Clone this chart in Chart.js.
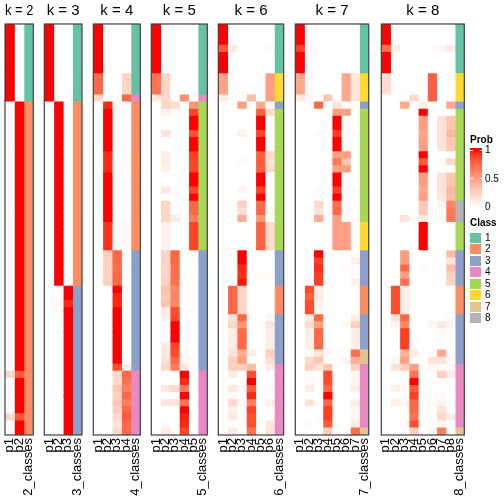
<!DOCTYPE html>
<html>
<head>
<meta charset="utf-8">
<script src="https://cdn.jsdelivr.net/npm/chart.js@4.4.1/dist/chart.umd.min.js"></script>
<style>
  html, body { margin: 0; padding: 0; background: #fff; }
  #wrap { position: relative; width: 504px; height: 504px; overflow: hidden;
          font-family: "Liberation Sans", Arial, Helvetica, sans-serif; color: #000; }
  .panel { position: absolute; top: 0; }
  .lg { position: absolute; font-size: 10px; line-height: 12px; white-space: nowrap; }
  .lg.b { font-weight: bold; }
  .box { position: absolute; }
</style>
</head>
<body>
<div id="wrap"></div>
<script>
const ks = [2, 3, 4, 5, 6, 7, 8];

// class membership of the 58 samples for every k
const classK2 = [1,1,1,1,1,1,1,1,1,1,1,
  2,2,2,2,2,2,2,2,2,2, 2,2,2,2,2,2,2,2,2,2, 2,2,2,2,2,2,2,2,2,2, 2,2,2,2,2,2,2,2,2,2, 2,2,2,2,2,2,2];
const classK3 = [1,1,1,1,1,1,1,1,1,1,1,
  2,2,2,2,2,2,2,2,2,2, 2,2,2,2,2,2,2,2,2,2, 2,2,2,2,2,2,
  3,3,3,3,3,3,3,3,3,3, 3,3,3,3,3,3,3,3,3,3,3];
const classK4 = [1,1,1,1,1,1,1,1,1,1, 4,
  2,2,2,2,2,2,2,2,2,2, 2,2,2,2,2,2,2,2,2,2,2,
  3,3,3,3,3,3,3,3,3,3, 3,3,3,3,3,3,3,
  4,4,4,4,4,4,4,4,4];
const classK5 = [1,1,1,1,1,1,1,1,1,1, 4,
  5,5,5,5,5,5,5,5,5,5, 5,5,5,5,5,5,5,5,5,5,5,
  3,3,3,3,3,3,3,3,3,3, 3,3,3,3,3,3,3,
  4,4,4,4,4,4,4,4,4];
const classK6 = [1,1,1,1,1,1,1, 6,6,6,6, 3,
  5,5,5,5,5,5,5,5,5,5, 5,5,5,5,5,5,5,5,5,5,
  3,3,3,3,3, 2,2,2,2, 3,3,3,3,3,3,3,
  4,4,4,4,4,4,4,4,4,4];
const classK7 = [1,1,1,1,1,1,1, 6,6,6,6, 3,
  5,5,5,5,5,5,5,5,5,5, 5,5,5,5,5,5, 6,6,6,6,
  3,3,3,3,3, 2,2,2,2, 3,3,3,3,3, 7,7,
  4,4,4,4,4,4,4,4,4, 7];
const classK8 = [1,1,1,1,1,1,1, 6,6,6,6, 3,
  5,5,5,5,5,5,5,5,5,5, 5,5,5, 8,8,8, 5,5,5,5,
  3,3,3,3,3, 2,2,2,2, 3,3,3,3,3,3,3,
  4,4,4,4,4,4,4,4,4, 7];

// membership probabilities p1..pk, one row per sample
const probK2 = [
  [1,0],[1,0],[1,0],[1,0],[1,0],[1,0],[1,0],[1,0],[1,0],[1,0],
  [1,0],[0,1],[0,1],[0,1],[0,1],[0,1],[0,1],[0,1],[0,1],[0,1],
  [0,1],[0,1],[0,1],[0,1],[0,1],[0,1],[0,1],[0,1],[0,1],[0,1],
  [0,1],[0,1],[0,1],[0,1],[0,1],[0,1],[0,1],[0,1],[0,1],[0,1],
  [0,1],[0,1],[0,1],[0,1],[0,1],[0,1],[0,1],[0,1],[0,1],[0.2,0.8],
  [0,1],[0,1],[0,1],[0,1],[0,1],[0.2,0.8],[0,1],[0,1]
];
const probK3 = [
  [1,0,0],[1,0,0],[1,0,0],[1,0,0],[1,0,0],[1,0,0],[1,0,0],[1,0,0],[1,0,0],[1,0,0],
  [1,0,0],[0,1,0],[0,1,0],[0,1,0],[0,1,0],[0,1,0],[0,1,0],[0,1,0],[0,1,0],[0,1,0],
  [0,1,0],[0,1,0],[0,1,0],[0,1,0],[0,1,0],[0,1,0],[0,1,0],[0,1,0],[0,1,0],[0,1,0],
  [0,1,0],[0,1,0],[0,1,0],[0,1,0],[0,1,0],[0,1,0],[0,1,0],[0,0,1],[0,0,1],[0,0.03,0.95],
  [0,0,1],[0,0,1],[0,0,1],[0,0,1],[0,0,1],[0,0,1],[0,0,1],[0,0,1],[0,0,1],[0,0,1],
  [0,0,1],[0,0,1],[0,0,1],[0,0,1],[0,0,1],[0,0,1],[0,0,1],[0,0,1]
];
const probK4 = [
  [1,0,0,0],[1,0,0,0],[1,0,0,0],[1,0,0,0],[1,0,0,0],[1,0,0,0],[1,0,0,0],
  [0.75,0,0,0.22],[0.75,0,0,0.22],[0.75,0,0,0.22],[0.2,0,0,0.75],
  [0,0.95,0.03,0],[0,1,0,0.02],[0,1,0,0],[0,1,0,0],[0,1,0,0],[0,1,0,0],[0,1,0,0],
  [0,0.95,0,0.02],[0,0.95,0,0.02],[0,0.95,0,0],[0,1,0,0],[0,1,0,0.02],[0,1,0,0],
  [0,1,0,0],[0,1,0,0],[0,1,0,0],[0,1,0,0],
  [0,0.93,0,0.03],[0,0.93,0,0.03],[0,0.93,0,0.03],[0,0.93,0,0.03],
  [0,0.25,0.75,0],[0,0.25,0.75,0],[0,0.25,0.72,0.02],[0,0.25,0.75,0],[0,0.25,0.75,0],
  [0,0,1,0],[0,0,0.96,0],[0,0,0.95,0.03],[0,0,1,0],[0,0,1,0],[0,0,1,0],[0,0,1,0],
  [0,0,1,0],[0,0,1,0],[0,0,1,0],[0,0,1,0],[0,0,0.85,0.1],
  [0,0,0.2,0.75],[0,0,0.2,0.7],[0,0,0.3,0.65],[0,0,0.25,0.75],[0,0,0.3,0.65],
  [0,0,0.25,0.75],[0,0,0.2,0.8],[0,0,0.15,0.75],[0,0,0.2,0.75]
];
const probK5 = [
  [1,0,0,0,0],[1,0,0,0,0],[1,0,0,0,0],[1,0,0,0,0],[1,0,0,0,0],[1,0,0,0,0],[1,0,0,0,0],
  [0.7,0.22,0,0,0],[0.7,0.22,0,0,0],[0.7,0.22,0,0,0],[0.12,0.22,0,0.55,0],
  [0,0.22,0.18,0,0.55],[0,0.07,0,0,0.88],[0,0,0,0,1],[0,0,0,0,1],[0,0.15,0,0,0.85],
  [0,0,0,0,1],[0,0,0,0,1],[0,0.08,0,0,0.9],[0,0.1,0,0,0.88],[0,0.08,0,0,0.88],
  [0,0,0,0,1],[0,0,0,0,1],[0,0.12,0,0,0.88],[0,0,0,0,1],
  [0,0.22,0,0,0.75],[0,0.22,0,0,0.75],[0,0.22,0.1,0,0.65],
  [0,0.07,0,0,0.88],[0,0.07,0,0,0.88],[0,0.07,0,0,0.88],[0,0.07,0,0,0.88],
  [0,0.22,0.75,0,0],[0,0.22,0.75,0,0],[0,0.22,0.72,0,0],[0,0.22,0.72,0.02,0],[0,0.25,0.7,0,0],
  [0,0.32,0.6,0,0],[0,0.3,0.62,0,0],[0,0.32,0.6,0,0],[0,0.1,0.85,0,0],
  [0,0.08,0.88,0,0],[0,0,1,0,0],[0,0,1,0,0],[0,0,1,0,0],[0,0.1,0.88,0,0],
  [0,0.12,0.85,0.03,0],[0,0.15,0.75,0.04,0],[0,0.2,0.65,0.12,0],
  [0,0.02,0,1,0],[0,0,0,0.95,0],[0,0.12,0.2,0.68,0],[0,0,0,1,0],[0,0.15,0.15,0.7,0],
  [0,0,0,1,0],[0,0,0,0.97,0],[0,0.03,0,0.95,0],[0,0.1,0,0.88,0]
];
const probK6 = [
  [1,0,0,0,0,0],[1,0,0,0,0,0],[1,0,0,0,0,0],[0.8,0.1,0,0,0,0.02],
  [1,0,0,0,0,0],[1,0,0,0,0,0],[1,0,0,0,0,0],
  [0.48,0,0,0,0,0.5],[0.48,0,0,0,0,0.5],[0.48,0,0,0,0,0.5],[0.1,0.02,0,0.35,0,0.5],
  [0,0,0.5,0,0.45,0.03],[0,0,0,0,0.78,0.2],[0,0,0,0,1,0],[0,0,0,0,1,0],
  [0,0,0.08,0,0.88,0],[0,0,0,0,1,0],[0,0,0,0,1,0],
  [0,0,0,0,0.78,0.2],[0,0,0.03,0,0.8,0.15],[0,0,0,0,0.78,0.2],
  [0,0,0,0,1,0],[0,0,0,0,1,0],[0,0,0.05,0,0.9,0],[0,0,0,0,1,0],
  [0,0,0.25,0,0.75,0],[0,0,0.18,0,0.75,0.03],[0,0,0.42,0,0.55,0],
  [0,0,0,0,0.78,0.2],[0,0,0,0,0.78,0.2],[0,0,0,0,0.78,0.2],[0,0,0,0,0.78,0.2],
  [0,0,1,0,0,0],[0,0,1,0,0,0],[0,0,0.95,0,0,0],[0,0,0.93,0,0.03,0.03],[0,0,0.98,0,0,0],
  [0,0.75,0.22,0,0,0],[0,0.75,0.22,0,0,0],[0,0.75,0.22,0,0,0],[0,0.75,0.22,0,0,0],
  [0,0.15,0.75,0,0,0.04],[0,0.22,0.55,0,0,0.14],[0,0.1,0.75,0,0,0.1],[0,0.1,0.75,0,0,0.1],
  [0,0.1,0.75,0,0,0.1],[0,0.14,0.42,0.1,0,0.25],[0,0.25,0.5,0,0,0.18],
  [0,0.25,0.25,0.35,0,0.1],[0,0.1,0,0.85,0,0],[0,0,0,1,0,0],[0,0.12,0.03,0.8,0,0.03],
  [0,0.03,0,0.95,0,0],[0,0.2,0.03,0.65,0,0.08],[0,0.08,0,0.9,0,0],[0,0.12,0,0.85,0,0],
  [0,0,0,0.85,0,0.12],[0,0.1,0,0.7,0,0.15]
];
const probK7 = [
  [1,0,0,0,0,0,0],[1,0,0,0,0,0,0],[1,0,0,0,0,0,0],[0.9,0.03,0,0,0,0,0],
  [1,0,0,0,0,0,0],[1,0,0,0,0,0,0],[1,0,0,0,0,0,0],
  [0.45,0.03,0,0,0,0.45,0.12],[0.45,0.03,0,0,0,0.45,0.12],[0.45,0.03,0,0,0,0.45,0.12],
  [0.12,0.03,0,0.3,0,0.45,0.12],[0,0,0.75,0,0.15,0.03,0],
  [0,0,0,0,0.5,0.5,0],[0,0,0,0,1,0,0],[0,0,0,0,1,0,0],[0,0,0.03,0,0.9,0,0.03],
  [0,0,0,0,1,0,0],[0,0,0,0,1,0,0],[0,0,0,0,0.5,0.5,0],[0,0,0,0,0.68,0.3,0],
  [0,0,0,0,0.5,0.5,0],[0,0,0,0,1,0,0],[0,0,0,0,1,0,0],[0,0,0.03,0,0.9,0,0.03],
  [0,0,0,0,1,0,0],[0,0,0.2,0,0.72,0,0.03],[0,0,0.15,0,0.75,0.03,0],[0,0,0.42,0,0.5,0,0.03],
  [0,0,0,0,0.5,0.5,0],[0,0,0,0,0.5,0.5,0],[0,0,0,0,0.5,0.5,0],[0,0,0,0,0.5,0.5,0],
  [0,0,1,0,0,0,0],[0,0,0.9,0,0,0,0.08],[0,0,0.95,0,0,0.03,0.02],[0,0,0.9,0,0,0,0.02],
  [0,0,0.9,0,0,0,0.08],
  [0,0.85,0.1,0,0,0,0],[0,0.78,0.12,0,0,0,0],[0,0.85,0.08,0,0,0,0],[0,0.85,0.05,0,0,0,0],
  [0,0.1,0.75,0,0,0,0.1],[0,0.2,0.5,0,0,0.03,0.25],[0,0.08,0.75,0,0,0,0.1],
  [0,0.08,0.75,0,0,0,0.1],[0,0.08,0.75,0,0,0,0.1],
  [0,0.03,0.15,0.05,0,0,0.72],[0,0.2,0.3,0,0,0.05,0.42],[0,0.25,0.15,0.3,0,0,0.25],
  [0,0.03,0,0.85,0,0,0.05],[0,0.02,0,0.85,0,0,0.05],[0,0.1,0,0.75,0,0,0.1],
  [0,0,0,1,0,0,0],[0,0.15,0,0.75,0,0,0.1],[0,0,0,0.9,0,0,0.05],[0,0,0,0.9,0,0,0.05],
  [0,0.03,0,0.8,0,0,0.1],[0,0,0,0.25,0,0,0.72]
];
const probK8 = [
  [1,0,0,0,0,0,0,0],[1,0,0,0,0,0,0,0],[1,0,0,0,0,0,0,0],[0.72,0.1,0,0,0,0.02,0.04,0.1],
  [1,0,0,0,0,0,0,0],[1,0,0,0,0,0,0,0],[1,0,0,0,0,0,0,0],
  [0.18,0,0,0,0,0.78,0,0],[0.18,0,0,0,0,0.78,0,0],[0.18,0,0,0,0,0.78,0,0],
  [0,0,0,0.2,0,0.78,0,0.03],[0,0,0.45,0,0.08,0,0,0.45],
  [0,0,0,0,1,0,0,0],[0,0,0,0,0.5,0,0.15,0.3],[0,0,0,0,0.5,0,0.15,0.3],
  [0,0,0,0,0.45,0,0.15,0.38],[0,0,0,0,0.5,0,0.15,0.3],[0,0,0,0,0.5,0,0.15,0.3],
  [0,0,0,0,1,0,0,0],[0,0,0,0,0.8,0,0.03,0.2],[0,0,0,0,1,0,0,0],
  [0,0,0,0,0.5,0,0.15,0.3],[0,0,0,0,0.5,0,0.15,0.3],[0,0,0,0,0.45,0,0.15,0.38],
  [0,0,0,0,0.5,0,0.12,0.35],
  [0,0,0,0,0.28,0,0.05,0.62],[0,0,0,0,0.28,0,0,0.68],[0,0,0.15,0,0.1,0,0,0.68],
  [0,0,0,0,1,0,0,0],[0,0,0,0,1,0,0,0],[0,0,0,0,1,0,0,0],[0,0,0,0,1,0,0,0],
  [0,0,0.5,0,0,0,0,0.35],[0,0,0.5,0,0,0,0,0.15],[0,0,0.75,0,0.03,0,0,0.35],
  [0,0,0.5,0,0,0,0,0.25],[0,0,0.72,0,0,0,0,0.22],
  [0,0.85,0.1,0,0,0,0,0],[0,0.85,0.1,0,0,0,0,0],[0,0.85,0.1,0,0,0,0,0],[0,0.85,0.1,0,0,0,0,0],
  [0,0.15,0.75,0,0,0,0,0.03],[0,0.05,0.6,0,0,0.05,0.12,0.05],[0,0,0.9,0,0,0,0.03,0],
  [0,0,0.9,0.02,0,0,0.02,0],[0,0,0.9,0,0,0,0.02,0],[0,0,0.4,0.1,0,0.02,0.45,0],
  [0,0.05,0.5,0,0,0.15,0.15,0.03],[0,0.15,0.25,0.5,0,0.03,0.03,0.03],
  [0,0,0,0.7,0,0,0.25,0.1],[0,0,0,1,0,0,0,0],[0,0.08,0.03,0.8,0,0,0,0],
  [0,0,0,0.9,0,0,0.03,0],[0,0.08,0.05,0.75,0,0.03,0.05,0],[0,0,0,0.75,0,0,0.15,0],
  [0,0,0,0.7,0,0,0.2,0.1],[0,0,0.03,0.85,0,0,0.05,0],[0,0,0,0.25,0,0.03,0.65,0]
];

const probs = [probK2, probK3, probK4, probK5, probK6, probK7, probK8];
const classes = [classK2, classK3, classK4, classK5, classK6, classK7, classK8];
const classLabels = ['1', '2', '3', '4', '5', '6', '7', '8'];
const classColors = {1: '#66C2A5', 2: '#FC8D62', 3: '#8DA0CB', 4: '#E78AC3',
                     5: '#A6D854', 6: '#FFD92F', 7: '#E5C494', 8: '#B3B3B3'};
const probTicks = [1, 0.5, 0];

// layout (pixels)
const FONT = '"Liberation Sans", Arial, Helvetica, sans-serif';
const panelLeft  = [5, 44.3, 93.3, 151.3, 218.3, 295.3, 381.3];
const panelRight = [33.3, 82, 140.3, 207.3, 283.7, 368.7, 464.3];
const PLOT_BOTTOM = 435, H = 504, PAD = 24;

// white -> red in LAB space
function toLin(c) { c /= 255; return c <= 0.04045 ? c / 12.92 : Math.pow((c + 0.055) / 1.055, 2.4); }
function toSrgb(c) {
  c = c <= 0.0031308 ? 12.92 * c : 1.055 * Math.pow(c, 1 / 2.4) - 0.055;
  return Math.round(Math.max(0, Math.min(1, c)) * 255);
}
function rgb2lab(rgb) {
  const [r, g, b] = rgb.map(toLin);
  const f = t => t > 0.008856 ? Math.cbrt(t) : 7.787 * t + 16 / 116;
  const x = f((0.4124 * r + 0.3576 * g + 0.1805 * b) / 0.95047);
  const y = f(0.2126 * r + 0.7152 * g + 0.0722 * b);
  const z = f((0.0193 * r + 0.1192 * g + 0.9505 * b) / 1.08883);
  return [116 * y - 16, 500 * (x - y), 200 * (y - z)];
}
function lab2rgb([L, a, bb]) {
  let y = (L + 16) / 116, x = y + a / 500, z = y - bb / 200;
  const fi = t => t * t * t > 0.008856 ? t * t * t : (t - 16 / 116) / 7.787;
  x = fi(x) * 0.95047; y = fi(y); z = fi(z) * 1.08883;
  const r = 3.2406 * x - 1.5372 * y - 0.4986 * z;
  const g = -0.9689 * x + 1.8758 * y + 0.0415 * z;
  const b = 0.0557 * x - 0.2040 * y + 1.0570 * z;
  return `rgb(${toSrgb(r)},${toSrgb(g)},${toSrgb(b)})`;
}
const LAB_W = rgb2lab([255, 255, 255]), LAB_R = rgb2lab([255, 0, 0]);
const probColor = v => lab2rgb(LAB_W.map((w, i) => w + (LAB_R[i] - w) * v));

// box around each heatmap
const panelBorder = {
  id: 'panelBorder',
  afterDatasetsDraw(chart) {
    const { ctx, chartArea: a } = chart;
    ctx.save();
    ctx.strokeStyle = '#404040';
    ctx.lineWidth = 1.2;
    ctx.strokeRect(a.left, a.top, a.right - a.left, a.bottom - a.top);
    ctx.restore();
  }
};

const wrap = document.getElementById('wrap');

ks.forEach((k, i) => {
  const rows = probs[i];
  const divLeft = Math.floor(panelLeft[i] - PAD);
  const divRight = Math.ceil(panelRight[i] + PAD);
  const div = document.createElement('div');
  div.className = 'panel';
  div.style.left = divLeft + 'px';
  const canvas = document.createElement('canvas');
  canvas.width = divRight - divLeft;
  canvas.height = H;
  div.appendChild(canvas);
  wrap.appendChild(div);

  const labels = [];
  for (let c = 1; c <= k; c++) labels.push('p' + c);
  labels.push(k + '_classes');

  const datasets = labels.map((lab, c) => ({
    data: rows.map((row, r) => ({ x: lab, y: [r, r + 1] })),
    backgroundColor: rows.map((row, r) => c < k ? probColor(row[c]) : classColors[classes[i][r]]),
    borderWidth: 0,
    grouped: false,
    barPercentage: 1,
    categoryPercentage: 1,
    inflateAmount: 0.4
  }));

  new Chart(canvas, {
    type: 'bar',
    data: { labels, datasets },
    options: {
      responsive: false,
      animation: false,
      devicePixelRatio: 1,
      layout: { padding: { left: panelLeft[i] - divLeft, right: divRight - panelRight[i], top: 0, bottom: 0 } },
      plugins: {
        legend: { display: false },
        tooltip: { enabled: false },
        title: {
          display: true,
          text: 'k = ' + k,
          color: '#000',
          font: { family: FONT, size: 15, weight: 'normal', lineHeight: 1.2 },
          padding: { top: 1.5, bottom: 4.5 }
        }
      },
      scales: {
        x: {
          type: 'category',
          offset: true,
          grid: { display: false, drawTicks: false },
          border: { display: false },
          ticks: { autoSkip: false, minRotation: 90, maxRotation: 90, padding: 3, color: '#000',
                   font: { family: FONT, size: 13 } },
          afterFit: s => { s.height = H - PLOT_BOTTOM; }
        },
        y: { display: false, min: 0, max: rows.length, reverse: true }
      }
    },
    plugins: [panelBorder]
  });
});

// legends on the right
function addText(txt, left, cy, bold) {
  const d = document.createElement('div');
  d.className = 'lg' + (bold ? ' b' : '');
  d.textContent = txt;
  d.style.left = left + 'px';
  d.style.top = (cy - 6) + 'px';
  wrap.appendChild(d);
}
function addBox(left, top, w, h, bg) {
  const d = document.createElement('div');
  d.className = 'box';
  Object.assign(d.style, { left: left + 'px', top: top + 'px', width: w + 'px', height: h + 'px', background: bg });
  wrap.appendChild(d);
  return d;
}

addText('Prob', 470, 139.5, true);
const BAR_TOP = 150, BAR_H = 57;
const stops = [];
for (let s = 0; s <= 20; s++) stops.push(probColor(1 - s / 20) + ' ' + (s * 5) + '%');
addBox(470, BAR_TOP, 12, BAR_H, 'linear-gradient(to bottom,' + stops.join(',') + ')');
probTicks.forEach(v => {
  const y = BAR_TOP + (1 - v) * BAR_H;
  addText(String(v), 485, y, false);
  if (v > 0) {
    addBox(470, y - 0.5, 2.5, 1, 'rgba(255,255,255,0.9)');
    addBox(479.5, y - 0.5, 2.5, 1, 'rgba(255,255,255,0.9)');
  }
});
// the bar reaches slightly above the 1 tick as in the reference
addBox(470, BAR_TOP - 2, 12, 2, probColor(1));

addText('Class', 470, 223, true);
classLabels.forEach((lab, j) => {
  const top = 233 + j * 11.45;
  addBox(470, top, 11, 10, classColors[j + 1]);
  addText(lab, 485, top + 5, false);
});
</script>
</body>
</html>
